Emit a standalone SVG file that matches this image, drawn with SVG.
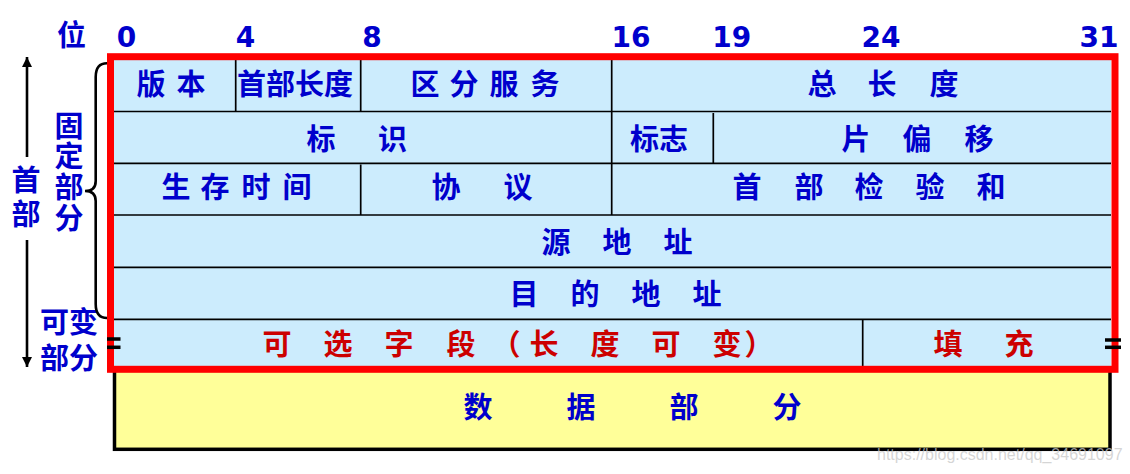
<svg xmlns="http://www.w3.org/2000/svg" width="1130" height="474" viewBox="0 0 1130 474">
<style>
.t{font-family:"Noto Sans CJK SC","Noto Sans",sans-serif;font-weight:bold;font-size:29px;fill:#0000CC;text-anchor:middle}
.r{fill:#CC0000}
.n{font-family:"DejaVu Sans",sans-serif;font-weight:bold;font-size:28px;fill:#0000CC;text-anchor:middle}
.ln{stroke:#000;stroke-width:1.7;fill:none}
.ar{stroke:#000;stroke-width:2.6;fill:none}
.eq{stroke:#000;stroke-width:3.5}
.wm{font-family:"Liberation Sans",Arial,sans-serif;font-size:16px;fill:#c8c8c8;fill-opacity:0.75}
</style>
<defs>
<marker id="ah" viewBox="0 0 10 10" refX="10" refY="5" markerWidth="10" markerHeight="15" markerUnits="userSpaceOnUse" orient="auto">
<path d="M0,0 L10,5 L0,10 z" fill="#000"/>
</marker>
</defs>
<rect width="1130" height="474" fill="#fff"/>

<g id="bits">
<text class="t" x="71.5" y="45.5">位</text>
<text class="n" x="126.5" y="47">0</text>
<text class="n" x="245.5" y="47">4</text>
<text class="n" x="372" y="47">8</text>
<text class="n" x="631" y="47">16</text>
<text class="n" x="731.7" y="47">19</text>
<text class="n" x="881" y="47">24</text>
<text class="n" x="1099" y="47">31</text>
</g>

<g id="data">
<rect x="114.5" y="369" width="995.5" height="80.3" fill="#FFFF99" stroke="#000" stroke-width="3.5"/>
<text class="t" x="478 581 684 787" y="418">数据部分</text>
</g>

<g id="header-table">
<rect x="114" y="60" width="997" height="306" fill="#CCECFD"/>
<g id="grid">
<line class="ln" x1="114" y1="111.5" x2="1111" y2="111.5"/>
<line class="ln" x1="114" y1="163.3" x2="1111" y2="163.3"/>
<line class="ln" x1="114" y1="215" x2="1111" y2="215"/>
<line class="ln" x1="114" y1="267.3" x2="1111" y2="267.3"/>
<line class="ln" x1="114" y1="319.3" x2="1111" y2="319.3"/>
<line class="ln" x1="235.7" y1="60" x2="235.7" y2="111.5"/>
<line class="ln" x1="360.7" y1="60" x2="360.7" y2="111.5"/>
<line class="ln" x1="360.7" y1="164.5" x2="360.7" y2="215"/>
<line class="ln" x1="611.7" y1="60" x2="611.7" y2="215"/>
<line class="ln" x1="713.3" y1="113" x2="713.3" y2="163.3"/>
<line class="ln" x1="862.7" y1="319.3" x2="862.7" y2="366"/>
</g>
<g id="version"><text class="t" x="151 191" y="94.5">版本</text></g>
<g id="ihl"><text class="t" x="251.5 280.5 309.5 338.5" y="94.5">首部长度</text></g>
<g id="dsf"><text class="t" x="425 464 504 545" y="94.5">区分服务</text></g>
<g id="total-length"><text class="t" x="822 882 944" y="94.5">总长度</text></g>
<g id="identification"><text class="t" x="321 392.5" y="150">标识</text></g>
<g id="flags"><text class="t" x="644.5 673.5" y="150">标志</text></g>
<g id="fragment-offset"><text class="t" x="856 917 979" y="150">片偏移</text></g>
<g id="ttl"><text class="t" x="176 215 256 297" y="198">生存时间</text></g>
<g id="protocol"><text class="t" x="446 518" y="198">协议</text></g>
<g id="checksum"><text class="t" x="747 809 869 930 991" y="198">首部检验和</text></g>
<g id="src"><text class="t" x="556 617 678" y="252.5">源地址</text></g>
<g id="dst"><text class="t" x="524 585 646 707" y="304.5">目的地址</text></g>
<g id="options"><text class="t r" x="277 338 399 461 506 544 605 666 727 759" y="355">可选字段（长度可变）</text></g>
<g id="padding"><text class="t r" x="948 1019" y="355">填充</text></g>
</g>

<g id="frame">
<rect x="110.5" y="56.7" width="1004.5" height="312.6" fill="none" stroke="#FF0000" stroke-width="7"/>
<line class="eq" x1="107" y1="339" x2="120.5" y2="339"/>
<line class="eq" x1="107" y1="347.3" x2="120.5" y2="347.3"/>
<line class="eq" x1="1105" y1="340" x2="1121" y2="340"/>
<line class="eq" x1="1105" y1="347.3" x2="1121" y2="347.3"/>
</g>

<g id="labels">
<text class="t" x="26 26" y="191 225">首部</text>
<text class="t" x="69 69 69 69" y="136.5 166.5 197.5 229">固定部分</text>
<text class="t" x="54.5 83.5 54.5 83.5" y="332.5 332.5 368.5 368.5">可变部分</text>
</g>

<g id="connectors">
<line class="ar" x1="27" y1="157" x2="27" y2="57" marker-end="url(#ah)"/>
<line class="ar" x1="27" y1="240" x2="27" y2="367" marker-end="url(#ah)"/>
<path class="ar" d="M107,63.3 C99,63.3 95.7,68 95.7,77 L95.7,181 C95.7,188 92,191 85,191 C92,191 95.7,194 95.7,201 L95.7,304 C95.7,313 99,318 107,318"/>
</g>

<text class="wm" x="877" y="460">https://blog.csdn.net/qq_34691097</text>
</svg>
